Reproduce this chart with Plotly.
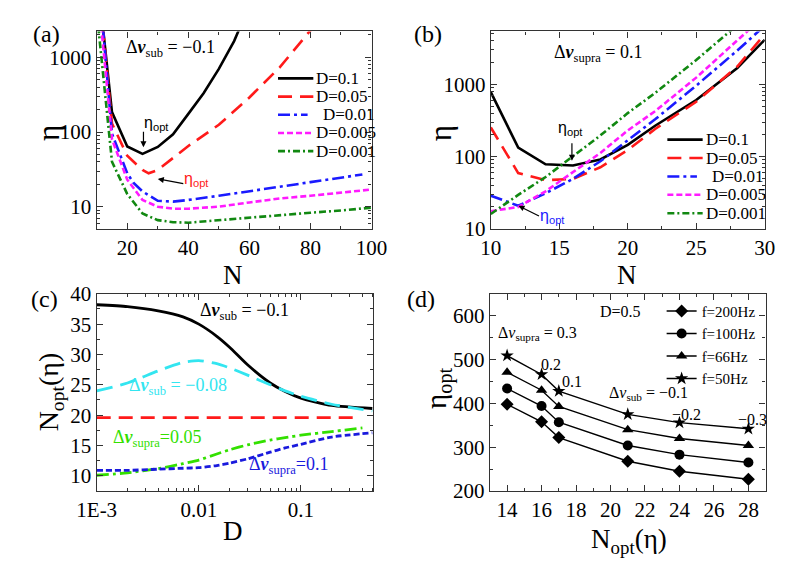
import plotly.graph_objects as go
import numpy as np

# ---------------- data ----------------
# (a) eta vs N, dv_sub = -0.1
a_N_black = [12, 15, 20, 25, 30, 35, 40, 45, 50, 55, 58]
a_black = [2600, 185, 64, 51, 63, 93, 175, 330, 700, 1650, 3200]
a_N_red = [12, 15, 20, 25, 27, 30, 40, 50, 60, 70, 80, 85]
a_red = [2600, 130, 48, 31, 28, 31, 65, 125, 290, 740, 2300, 4000]
a_N_blue = [12, 15, 20, 22, 25, 30, 35, 40, 50, 60, 70, 80, 97]
a_blue = [2600, 95, 28, 21, 16, 12.0, 11.7, 12.3, 14.0, 16.2, 18.4, 21.3, 27]
a_N_mag = [11.5, 15, 20, 25, 30, 35, 40, 50, 60, 70, 80, 100]
a_mag = [2600, 80, 23, 12.3, 10.0, 9.4, 9.4, 10.0, 11.4, 12.9, 14.0, 17.0]
a_N_green = [10.5, 15, 20, 25, 30, 35, 40, 50, 60, 70, 80, 90, 100]
a_green = [2600, 40, 14.8, 8.1, 6.6, 6.2, 6.1, 6.6, 7.2, 7.8, 8.3, 8.9, 9.7]

# (b) eta vs N, dv_supra = 0.1
b_N = [10, 12, 14, 16, 18, 20, 22, 25, 28, 30]
b_black = [780, 133, 78, 75, 91, 145, 267, 607, 1690, 4150]
b_red = [253, 59, 47, 49, 71, 123, 241, 575, 1770, 4940]
b_blue = [28.7, 20.8, 31, 49, 86, 169, 328, 960, 2950, 6500]
b_mag = [17.5, 20, 33, 60, 112, 230, 425, 1240, 4000, 9000]
b_green = [16, 29.4, 52, 100, 196, 400, 760, 2180, 6500, 14000]

legend_names = ["D=0.1", "D=0.05", "D=0.01", "D=0.005", "D=0.001"]

# (c) N_opt vs D
c_D = [0.001, 0.002, 0.004, 0.007, 0.01, 0.015, 0.02, 0.03, 0.05, 0.07, 0.1, 0.2, 0.5]
c_sub01 = [38.2, 37.9, 37.2, 36.2, 35.0, 33.0, 31.2, 28.3, 25.3, 23.9, 22.8, 21.6, 21.1]
c_sub008 = [24.0, 25.3, 27.3, 28.7, 29.0, 28.5, 27.8, 26.6, 25.0, 24.0, 23.1, 21.8, 20.7]
c_D_red = [0.001, 0.35]
c_red = [19.6, 19.6]
c_D_green = [0.001, 0.002, 0.004, 0.007, 0.01, 0.015, 0.02, 0.03, 0.05, 0.07, 0.1, 0.2, 0.4]
c_supra005 = [10.1, 10.5, 11.2, 12.0, 12.6, 13.6, 14.3, 15.1, 15.9, 16.3, 16.7, 17.3, 17.9]
c_supra01 = [10.9, 10.9, 11.1, 11.25, 11.35, 11.7, 12.1, 12.8, 13.9, 14.6, 15.2, 16.4, 17.1]

# (d) eta_opt vs N_opt
d_N = [14, 16, 17, 21, 24, 28]
d_200 = [398, 358, 322, 268, 245, 227]
d_100 = [434, 394, 357, 304, 283, 265]
d_66 = [471, 430, 393, 340, 320, 304]
d_50 = [509, 466, 428, 375, 356, 342]

W, H = 787, 563
SERIF = "Liberation Serif, Times New Roman, serif"
SANS = "Liberation Sans, Arial, sans-serif"


def px(x):
    return x / W


def py(y):
    return 1 - y / H


fig = go.Figure()

# ---------- (a) and (b) ----------
lw = 2.6
colors = ["black", "#ff1a1a", "#1a1aff", "#ff1aff", "#118811"]
dashes = ["solid", "14px,8px", "12px,4px,3px,4px", "6px,3px", "7px,3px,2px,3px"]
a_sets = [(a_N_black, a_black), (a_N_red, a_red), (a_N_blue, a_blue),
          (a_N_mag, a_mag), (a_N_green, a_green)]
for (xs, ys), name, col, dash in zip(a_sets, legend_names, colors, dashes):
    fig.add_trace(go.Scatter(x=xs, y=ys, mode="lines", name=name, showlegend=False,
                             line=dict(color=col, width=lw, dash=dash),
                             xaxis="x", yaxis="y"))

b_sets = [b_black, b_red, b_blue, b_mag, b_green]
for ys, name, col, dash in zip(b_sets, legend_names, colors, dashes):
    fig.add_trace(go.Scatter(x=b_N, y=ys, mode="lines", name=name, showlegend=False,
                             line=dict(color=col, width=lw, dash=dash),
                             xaxis="x2", yaxis="y2"))

# ---------- (c) ----------
c_sets = [
    (c_D, c_sub01, "black", "solid"),
    (c_D, c_sub008, "#33e5f0", "16px,8px"),
    (c_D_red, c_red, "#ff1a1a", "14px,8px"),
    (c_D_green, c_supra005, "#33e000", "12px,4px,3px,4px"),
    (c_D, c_supra01, "#1a1add", "6px,3px"),
]
for xs, ys, col, dash in c_sets:
    fig.add_trace(go.Scatter(x=xs, y=ys, mode="lines", showlegend=False,
                             line=dict(color=col, width=2.8, dash=dash, shape="spline", smoothing=0.6),
                             xaxis="x3", yaxis="y3"))

# ---------- (d) ----------
d_sets = [
    (d_200, "f=200Hz", "diamond"),
    (d_100, "f=100Hz", "circle"),
    (d_66, "f=66Hz", "triangle-up"),
    (d_50, "f=50Hz", "star"),
]
for ys, name, sym in d_sets:
    fig.add_trace(go.Scatter(x=d_N, y=ys, mode="lines+markers", name=name,
                             line=dict(color="black", width=1.4),
                             marker=dict(symbol=sym, size=10, color="black"),
                             xaxis="x4", yaxis="y4", legend="legend"))


def axis(**kw):
    base = dict(showline=True, linecolor="#333", linewidth=1.3, mirror="allticks",
                ticks="inside", ticklen=6, tickwidth=1.2, tickcolor="#333",
                showgrid=False, zeroline=False,
                tickfont=dict(family=SERIF, size=21, color="black"))
    base.update(kw)
    return base


def lin_minor(dt):
    return dict(ticks="inside", ticklen=3, tickwidth=1, tickcolor="#333", dtick=dt, tick0=0, showgrid=False)


def log_minor(lo, hi):
    vals = [d * 10.0 ** k for k in range(-4, 5) for d in range(2, 10)]
    vals = [v for v in vals if lo <= v <= hi]
    return dict(ticks="inside", ticklen=3, tickwidth=1, tickcolor="#333", tickvals=vals, showgrid=False)


xa = [px(72), px(360)]
xb = [px(485), px(772)]
yt = [py(218), py(12)]
yb = [py(492), py(286)]
xc = [px(72), px(362)]
xd = [px(484), px(773)]

fig.update_layout(
    width=W, height=H, margin=dict(l=0, r=0, t=0, b=0),
    paper_bgcolor="white", plot_bgcolor="white",
    xaxis=axis(domain=xa, anchor="y", range=[10, 100], tickvals=[20, 40, 60, 80, 100],
               minor=lin_minor(10)),
    yaxis=axis(domain=yt, anchor="x", type="log", range=[np.log10(5.07), np.log10(2220)],
               tickvals=[10, 100, 1000], ticktext=["10", "100", "1000"], minor=log_minor(5, 2220)),
    xaxis2=axis(domain=xb, anchor="y2", range=[10, 30], tickvals=[10, 15, 20, 25, 30],
                minor=lin_minor(2.5)),
    yaxis2=axis(domain=yt, anchor="x2", type="log", range=[1, 3.733],
                tickvals=[10, 100, 1000], ticktext=["10", "100", "1000"], minor=log_minor(10, 5400)),
    xaxis3=axis(domain=xc, anchor="y3", type="log", range=[-3, -0.29],
                tickvals=[0.001, 0.01, 0.1], ticktext=["1E-3", "0.01", "0.1"], minor=log_minor(0.001, 0.5)),
    yaxis3=axis(domain=yb, anchor="x3", range=[7.5, 40], tickvals=[10, 15, 20, 25, 30, 35, 40],
                minor=lin_minor(2.5)),
    xaxis4=axis(domain=xd, anchor="y4", range=[13, 29], tickvals=[14, 16, 18, 20, 22, 24, 26, 28],
                minor=lin_minor(1)),
    yaxis4=axis(domain=yb, anchor="x4", range=[200, 650], tickvals=[200, 300, 400, 500, 600],
                minor=lin_minor(50)),
    legend=dict(x=px(664), y=py(287), font=dict(family=SERIF, size=15, color="black"),
                bgcolor="rgba(0,0,0,0)", borderwidth=0, xanchor="left", yanchor="top",
                tracegroupgap=0, itemwidth=30),
)

ann = []
shapes = []


def T(x, y, text, size=17, color="black", family=SERIF, xanchor="center", angle=0):
    ann.append(dict(x=px(x), y=py(y), xref="paper", yref="paper", text=text, showarrow=False,
                    font=dict(family=family, size=size, color=color), xanchor=xanchor,
                    yanchor="middle", textangle=angle))


def A(x, y, ax, ay, color="black"):
    ann.append(dict(x=px(x), y=py(y), xref="paper", yref="paper", text="", showarrow=True,
                    ax=ax, ay=ay, arrowhead=2, arrowsize=1, arrowwidth=1.2, arrowcolor=color))


def legend_block(x0, y0, step):
    for i, (name, col, dash) in enumerate(zip(legend_names, colors, dashes)):
        y = y0 + i * step
        x1 = x0 + 37 if i != 2 else x0 + 31
        tx = x0 + 38 if i != 2 else x0 + 45
        shapes.append(dict(type="line", xref="paper", yref="paper", x0=px(x0), x1=px(x1),
                           y0=py(y), y1=py(y), line=dict(color=col, width=lw, dash=dash)))
        T(tx, y, name, size=17, xanchor="left")


legend_block(262, 61, 19)
legend_block(670, 125, 19.2)

# panel labels
T(19, 15, "(a)", size=24)
T(419, 15, "(b)", size=24)
T(17, 291, "(c)", size=24)
T(412, 291, "(d)", size=24)

# axis titles
T(215, 266, "N", size=27)
T(628, 266, "N", size=27)
T(215, 534, "D", size=27)
T(630, 544, "N<sub>opt</sub>(η)", size=27)
T(22, 118, "η", size=31, angle=-90)
T(433, 118, "η", size=31, angle=-90)
T(24, 388, "N<sub>opt</sub>(η)", size=28, angle=-90)
T(430, 385, "η<sub>opt</sub>", size=29, angle=-90)

# (a) annotations
T(101, 30, "Δ<b><i>v</i></b><sub>sub</sub> = −0.1", size=18, xanchor="left")
T(135, 108, "η<sub>opt</sub>", size=16, family=SANS)
A(121, 133, 0, -17)
T(177, 167, "η<sub>opt</sub>", size=16, family=SANS, color="#ff1a1a")
A(136, 166, 27, 5)

# (b) annotations
T(549, 35, "Δ<b><i>v</i></b><sub>supra</sub> = 0.1", size=18, xanchor="left")
T(569, 113, "η<sub>opt</sub>", size=16, family=SANS)
A(570, 147, 0, -19)
T(550, 205, "η<sub>opt</sub>", size=16, family=SANS, color="#1a1aff")
A(514, 194, 22, 11)

# (c) annotations
T(178, 305, "Δ<b><i>v</i></b><sub>sub</sub> = −0.1", size=18, xanchor="left")
T(104, 383, "Δ<b><i>v</i></b><sub>sub</sub> = −0.08", size=18, xanchor="left", color="#33e5f0")
T(87, 437, "Δ<b><i>v</i></b><sub>supra</sub>=0.05", size=18, xanchor="left", color="#33e000")
T(230, 465, "Δ<b><i>v</i></b><sub>supra</sub>=0.1", size=18, xanchor="left", color="#1a1add")

# (d) annotations
T(597, 305, "D=0.5", size=16, xanchor="left")
T(490, 327, "Δ<i>v</i><sub>supra</sub> = 0.3", size=16, xanchor="left")
T(535, 360, "0.2", size=16, xanchor="left")
T(557, 378, "0.1", size=16, xanchor="left")
T(607, 390, "Δ<i>v</i><sub>sub</sub> = −0.1", size=16, xanchor="left")
T(673, 412, "−0.2", size=16, xanchor="left")
T(742, 417, "−0.3", size=16, xanchor="left")

fig.update_layout(annotations=ann, shapes=shapes)
fig.write_html("out.html")
